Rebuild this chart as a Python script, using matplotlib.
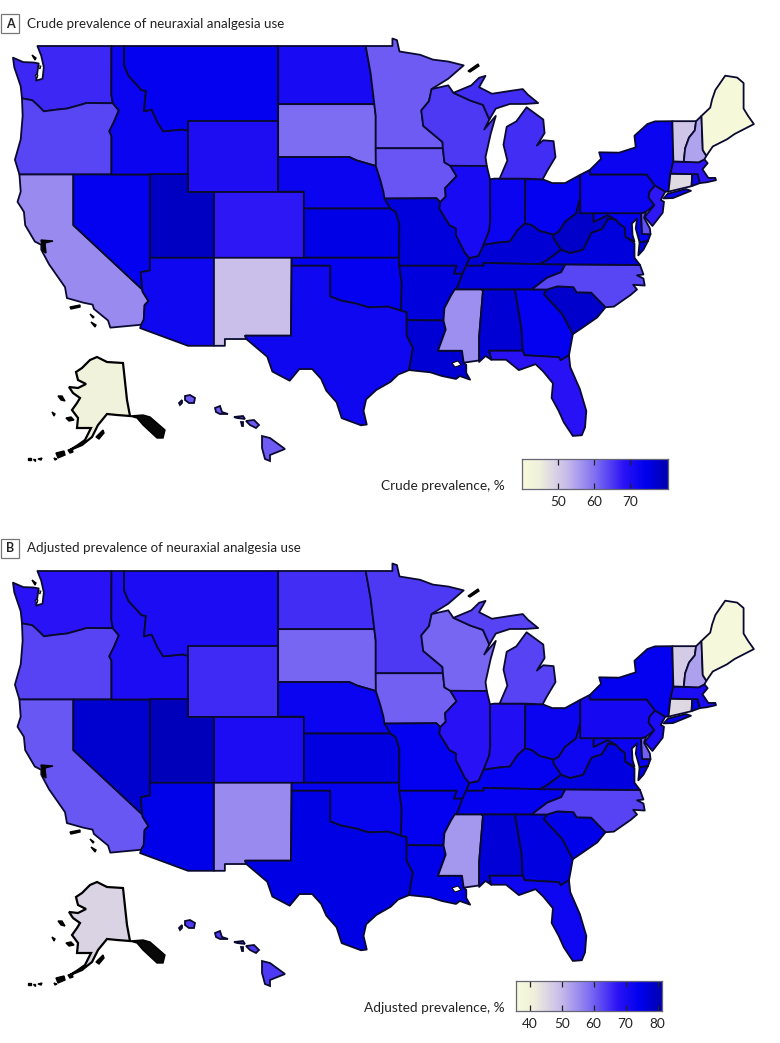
"""
Neuraxial analgesia prevalence by state, crude and adjusted choropleths.
Outlines are hand simplified lon/lat, the map is a plain Mercator.
"""
import numpy as np
import matplotlib
matplotlib.use("Agg")
import matplotlib.pyplot as plt
from matplotlib.colors import LinearSegmentedColormap, Normalize
from matplotlib.patches import Rectangle

plt.rcParams['font.family'] = ['Lato', 'DejaVu Sans']

STATES = ["ME", "VT", "NH", "MA", "RI", "CT", "NY", "NJ", "PA", "DE", "MD", "VA", "WV", "OH", "MI", "IN", "IL",
          "WI", "MN", "IA", "MO", "ND", "SD", "NE", "KS", "KY", "TN", "NC", "SC", "GA", "FL", "AL", "MS", "AR",
          "LA", "TX", "OK", "MT", "WY", "ID", "WA", "OR", "CA", "NV", "UT", "AZ", "CO", "NM", "AK", "HI"]
crude = [41, 51, 55, 68, 72, 48, 73, 68, 73, 63, 74, 76, 78, 74, 66, 73, 71,
         65, 62, 62.5, 76, 71, 60.5, 73, 75, 77, 76, 64, 77.5, 74, 68.5, 77, 57, 76,
         77, 72, 74, 74, 70, 73, 66.5, 64, 57.5, 74, 78.5, 72, 68, 52, 44, 62]
adjusted = [37, 47, 53, 70, 75, 45, 74, 70, 71, 60, 73, 76, 72, 73, 63, 69, 68,
            59.5, 64, 60, 74, 65, 59.5, 73, 76, 74, 74, 63, 75, 76, 72, 77, 54, 74,
            75, 75.5, 73.5, 70, 65.5, 70, 67.7, 63, 61, 78, 80, 75, 70, 55.5, 46, 64]

# lon/lat outlines, shared borders are repeated by hand
OUTLINES = {
    "WA": [(-124.7,48.4),(-123.9,48.17),(-123.1,48.15),(-122.7,48.1),(-122.9,47.2),(-122.4,47.3),(-122.3,47.9),(-122.5,48.5),(-122.8,49),(-117.03,49),(-117.04,46.43),(-116.92,45.99),(-118.98,46),(-119.3,45.93),(-120.5,45.7),(-121.2,45.65),(-122.3,45.55),(-122.8,45.9),(-123.2,46.15),(-124,46.25),(-124.1,46.9),(-124.6,47.9)],
    "OR": [(-124,46.25),(-123.2,46.15),(-122.8,45.9),(-122.3,45.55),(-121.2,45.65),(-120.5,45.7),(-119.3,45.93),(-118.98,46),(-116.92,45.99),(-116.46,45.6),(-116.85,44.95),(-117.2,44.45),(-117.03,44.2),(-117.03,42),(-124.2,42),(-124.55,42.85),(-124.1,44),(-123.95,45.3)],
    "CA": [(-124.2,42),(-120,42),(-120,39),(-114.63,35),(-114.6,34.85),(-114.15,34.26),(-114.45,34),(-114.52,33.03),(-114.72,32.72),(-117.12,32.53),(-117.3,33),(-118.4,33.75),(-118.5,34.03),(-119.2,34.15),(-120.5,34.45),(-120.65,35.15),(-121.9,36.6),(-122.5,37.5),(-122.5,37.8),(-123,38),(-123.75,39),(-123.85,39.8),(-124.35,40.4),(-124.1,41)],
    "NV": [(-120,42),(-114.04,42),(-114.04,36.2),(-114.75,36.1),(-114.63,35),(-120,39)],
    "ID": [(-117.03,49),(-116.05,49),(-116.05,48),(-115.7,47.45),(-114.7,46.7),(-114.35,46.65),(-114.5,45.55),(-113.9,45.65),(-113.45,44.95),(-113,44.45),(-111.5,44.55),(-111.05,44.48),(-111.05,42),(-117.03,42),(-117.03,44.2),(-117.2,44.45),(-116.85,44.95),(-116.46,45.6),(-116.92,45.99),(-117.04,46.43)],
    "MT": [(-116.05,49),(-104.05,49),(-104.05,45),(-111.05,45),(-111.05,44.48),(-111.5,44.55),(-113,44.45),(-113.45,44.95),(-113.9,45.65),(-114.5,45.55),(-114.35,46.65),(-114.7,46.7),(-115.7,47.45),(-116.05,48)],
    "WY": [(-111.05,45),(-104.05,45),(-104.05,41),(-111.05,41)],
    "UT": [(-114.04,42),(-111.05,42),(-111.05,41),(-109.05,41),(-109.05,37),(-114.04,37)],
    "AZ": [(-114.04,37),(-109.05,37),(-109.05,31.33),(-111.07,31.33),(-114.8,32.5),(-114.72,32.72),(-114.52,33.03),(-114.45,34),(-114.15,34.26),(-114.6,34.85),(-114.63,35),(-114.75,36.1),(-114.04,36.2)],
    "CO": [(-109.05,41),(-102.05,41),(-102.05,37),(-109.05,37)],
    "NM": [(-109.05,37),(-103,37),(-103.05,32),(-106.62,32),(-106.53,31.78),(-108.2,31.78),(-108.2,31.33),(-109.05,31.33)],
    "ND": [(-104.05,49),(-97.23,49),(-96.85,47.6),(-96.56,45.94),(-104.05,45.94)],
    "SD": [(-104.05,45.94),(-96.56,45.94),(-96.45,45.3),(-96.45,43.5),(-96.44,42.49),(-97.9,42.8),(-98.5,43),(-104.05,43)],
    "NE": [(-104.05,43),(-98.5,43),(-97.9,42.8),(-96.44,42.49),(-96.1,41.7),(-95.85,41),(-95.31,40),(-102.05,40),(-102.05,41),(-104.05,41)],
    "KS": [(-102.05,40),(-95.31,40),(-94.9,39.8),(-94.61,39.1),(-94.62,37),(-102.05,37)],
    "OK": [(-103,37),(-94.62,37),(-94.62,36.5),(-94.43,35.4),(-94.48,33.64),(-95.5,33.9),(-97,33.85),(-98,34.1),(-99.2,34.3),(-100,34.56),(-100,36.5),(-103,36.5)],
    "TX": [(-103,36.5),(-100,36.5),(-100,34.56),(-99.2,34.3),(-98,34.1),(-97,33.85),(-95.5,33.9),(-94.48,33.64),(-94.04,33.55),(-94.04,32),(-93.55,31.2),(-93.7,30.5),(-93.85,29.7),(-94.7,29.4),(-95.3,28.9),(-96.4,28.35),(-97.2,27.7),(-97.4,26.9),(-97.15,25.95),(-97.6,25.9),(-99.1,26.4),(-99.5,27.5),(-100.3,28.3),(-100.7,29.1),(-101.4,29.77),(-102.4,29.77),(-103.15,28.98),(-104.5,29.6),(-104.9,30.6),(-106.53,31.78),(-106.62,32),(-103.05,32)],
    "MN": [(-97.23,49),(-95.15,49),(-95.15,49.38),(-94.8,49.3),(-94.6,48.72),(-93,48.55),(-92,48.3),(-90.8,48.2),(-89.6,48),(-90.8,47.3),(-92.1,46.75),(-92.3,46.1),(-92.9,45.6),(-92.75,44.75),(-91.25,43.85),(-91.22,43.5),(-96.45,43.5),(-96.45,45.3),(-96.56,45.94),(-96.85,47.6)],
    "IA": [(-96.45,43.5),(-91.22,43.5),(-91.1,42.7),(-90.64,42.5),(-90.15,41.9),(-91.05,41.2),(-91,40.7),(-91.42,40.38),(-91.73,40.61),(-95.77,40.59),(-95.85,41),(-96.1,41.7),(-96.44,42.49)],
    "MO": [(-95.77,40.59),(-91.73,40.61),(-91.42,40.38),(-91.5,40),(-90.7,39),(-90.2,38.8),(-90.2,38.4),(-89.5,37.3),(-89.15,36.98),(-89.4,36.5),(-89.7,36),(-90.37,36),(-90.15,36.5),(-94.62,36.5),(-94.62,37),(-94.61,39.1),(-94.9,39.8),(-95.31,40)],
    "AR": [(-94.62,36.5),(-90.15,36.5),(-90.37,36),(-89.7,36),(-90.1,35.1),(-90.6,34.6),(-91.1,33.8),(-91.17,33),(-94.04,33.02),(-94.04,33.55),(-94.48,33.64),(-94.43,35.4)],
    "LA": [(-94.04,33.02),(-91.17,33),(-91,32.4),(-91.6,31),(-89.73,31),(-89.6,30.2),(-89.4,30.05),(-89.4,29.5),(-89.1,29.05),(-89.9,29.3),(-90.2,29.1),(-91.3,29.3),(-92.2,29.55),(-93.85,29.7),(-93.7,30.5),(-93.55,31.2),(-94.04,32)],
    "WI": [(-92.1,46.75),(-90.8,46.95),(-90.4,46.55),(-89.1,46.14),(-88.1,45.9),(-87.6,45.1),(-88,44.55),(-87.1,45.3),(-87.5,44.3),(-87.9,43),(-87.8,42.49),(-90.64,42.5),(-91.1,42.7),(-91.22,43.5),(-91.25,43.85),(-92.75,44.75),(-92.9,45.6),(-92.3,46.1)],
    "IL": [(-90.64,42.5),(-87.8,42.49),(-87.55,41.72),(-87.53,39.35),(-87.6,38.7),(-88.05,37.8),(-88.45,37.1),(-89.15,36.98),(-89.5,37.3),(-90.2,38.4),(-90.2,38.8),(-90.7,39),(-91.5,40),(-91.42,40.38),(-91,40.7),(-91.05,41.2),(-90.15,41.9)],
    "IN": [(-87.55,41.72),(-87.2,41.76),(-84.8,41.76),(-84.82,39.1),(-85.4,38.7),(-86,38),(-86.8,37.95),(-88.05,37.8),(-87.6,38.7),(-87.53,39.35)],
    "OH": [(-84.8,41.72),(-83.45,41.72),(-82.7,41.5),(-81.7,41.5),(-80.52,41.98),(-80.52,40.64),(-80.85,39.7),(-81.7,39.2),(-82.2,38.6),(-82.6,38.42),(-83.7,38.65),(-84.3,39),(-84.82,39.1)],
    "KY": [(-89.4,36.5),(-88.05,36.5),(-88.05,36.68),(-83.68,36.6),(-83.1,36.85),(-82,37.5),(-82.6,38.2),(-82.6,38.42),(-83.7,38.65),(-84.3,39),(-84.82,39.1),(-85.4,38.7),(-86,38),(-86.8,37.95),(-88.05,37.8),(-88.45,37.1),(-89.15,36.98)],
    "TN": [(-89.7,36),(-89.4,36.5),(-88.05,36.5),(-88.05,36.68),(-83.68,36.6),(-81.68,36.59),(-82,36.1),(-83.1,35.75),(-84.3,35),(-90.3,35),(-90.1,35.1)],
    "MS": [(-90.3,35),(-88.2,35),(-88.1,34.9),(-88.4,31.9),(-88.4,30.35),(-89.6,30.2),(-89.73,31),(-91.6,31),(-91,32.4),(-91.17,33),(-91.1,33.8),(-90.6,34.6)],
    "AL": [(-88.2,35),(-85.6,35),(-85.1,32.5),(-85,31),(-87.6,31),(-87.45,30.4),(-87.9,30.65),(-88.4,30.25),(-88.4,31.9),(-88.1,34.9)],
    "GA": [(-85.6,35),(-83.1,35),(-83.35,34.7),(-81.9,33.4),(-81.1,32.1),(-81.4,30.7),(-82.05,30.36),(-82.2,30.57),(-84.86,30.7),(-85,31),(-85.1,32.5)],
    "FL": [(-87.6,31),(-85,31),(-84.86,30.7),(-82.2,30.57),(-82.05,30.36),(-81.4,30.7),(-81.3,29.9),(-80.55,28.4),(-80.05,26.9),(-80.15,25.75),(-80.4,25.2),(-81.1,25.15),(-81.8,26.1),(-82.2,26.9),(-82.75,27.8),(-82.65,28.8),(-83.4,29.6),(-84,30.1),(-85.3,29.7),(-86.3,30.4),(-87.45,30.4)],
    "SC": [(-83.1,35),(-82.3,35.2),(-81.05,35.15),(-80.8,34.82),(-79.67,34.8),(-78.55,33.86),(-79.2,33.2),(-80.4,32.5),(-81.1,32.1),(-81.9,33.4),(-83.35,34.7)],
    "NC": [(-84.3,35),(-83.1,35.75),(-82,36.1),(-81.68,36.59),(-75.87,36.55),(-75.6,35.95),(-76.1,35.9),(-75.6,35.7),(-75.5,35.25),(-76.4,35.3),(-76.1,35),(-76.6,34.65),(-77.9,33.9),(-78.55,33.86),(-79.67,34.8),(-80.8,34.82),(-81.05,35.15),(-82.3,35.2),(-83.1,35)],
    "VA": [(-83.68,36.6),(-75.87,36.55),(-76.3,37),(-76.3,37.9),(-77,38.3),(-77.05,38.85),(-77.5,39.1),(-77.72,39.32),(-78.35,39.4),(-78.85,38.75),(-79.65,38.55),(-80.3,37.5),(-81.3,37.3),(-82,37.5),(-83.1,36.85)],
    "WV": [(-82.6,38.42),(-82.6,38.2),(-82,37.5),(-81.3,37.3),(-80.3,37.5),(-79.65,38.55),(-78.85,38.75),(-78.35,39.4),(-77.72,39.32),(-78.4,39.6),(-79.48,39.2),(-79.48,39.72),(-80.52,39.72),(-80.52,40.64),(-80.85,39.7),(-81.7,39.2),(-82.2,38.6)],
    "MD": [(-79.48,39.72),(-75.79,39.72),(-75.7,38.46),(-75.05,38.45),(-75.25,38.03),(-75.9,37.95),(-76.2,38.8),(-76.1,39.4),(-76.5,39.1),(-76.45,38.4),(-76.3,38),(-77,38.3),(-77.05,38.85),(-77.5,39.1),(-77.72,39.32),(-78.4,39.6),(-79.48,39.2)],
    "DE": [(-75.79,39.72),(-75.4,39.8),(-75.55,39.45),(-75.1,38.8),(-75.05,38.45),(-75.7,38.46)],
    "PA": [(-80.52,41.98),(-79.76,42.27),(-79.76,42),(-75.35,42),(-74.7,41.36),(-75.13,40.98),(-75.2,40.65),(-74.75,40.2),(-75.4,39.8),(-75.79,39.72),(-80.52,39.72)],
    "NJ": [(-74.7,41.36),(-73.9,41),(-74.25,40.5),(-74,40.4),(-74.1,39.75),(-74.9,38.95),(-75.5,39.5),(-74.75,40.2),(-75.2,40.65),(-75.13,40.98)],
    "NY": [(-79.76,42.27),(-79.76,42),(-75.35,42),(-74.7,41.36),(-73.9,41),(-73.65,41),(-73.5,42.05),(-73.27,42.75),(-73.35,45.01),(-74.7,45),(-75.3,44.85),(-76.3,44.2),(-76.2,43.55),(-77.5,43.25),(-79.05,43.27),(-78.9,42.9)],
    "CT": [(-73.5,42.05),(-71.8,42.02),(-71.85,41.32),(-73.65,41)],
    "RI": [(-71.8,42.02),(-71.38,42.02),(-71.2,41.5),(-71.85,41.32)],
    "MA": [(-73.5,42.05),(-73.27,42.75),(-71.3,42.7),(-70.85,42.87),(-70.6,42.65),(-71,42.3),(-70.55,41.8),(-70,41.8),(-69.95,41.67),(-70.65,41.55),(-71.2,41.5),(-71.38,42.02),(-71.8,42.02)],
    "VT": [(-73.35,45.01),(-71.5,45.01),(-71.6,44.5),(-72.05,44.1),(-72.35,43.5),(-72.46,42.73),(-73.27,42.75)],
    "NH": [(-71.5,45.01),(-71.08,45.3),(-70.98,43.4),(-70.7,43.07),(-70.85,42.87),(-71.3,42.7),(-72.46,42.73),(-72.35,43.5),(-72.05,44.1),(-71.6,44.5)],
    "ME": [(-71.08,45.3),(-70.4,45.75),(-70.25,46.2),(-70,46.7),(-69.23,47.46),(-68.3,47.36),(-67.8,47.07),(-67.8,45.7),(-67.45,45.3),(-67,44.85),(-68.5,44.3),(-69.1,44),(-70.2,43.6),(-70.7,43.07),(-70.98,43.4)],
    "MI": [(-86.8,41.76),(-84.8,41.76),(-83.45,41.72),(-83.1,42.2),(-82.45,43),(-82.6,43.9),(-83.4,43.95),(-83.9,43.65),(-83.3,44.35),(-83.4,45.1),(-84.7,45.77),(-85.5,45),(-86.25,44.7),(-86.5,43.7),(-86.2,42.8)],
}
EXTRA_PARTS = [
    ("MI", [(-90.4,46.55),(-89,46.95),(-88.4,47.35),(-87.9,47.45),(-88.4,46.85),(-87.4,46.5),(-86,46.65),(-85,46.75),(-84.6,46.45),(-83.8,46),(-84.8,45.95),(-86,45.95),(-87.1,45.7),(-87.6,45.1),(-88.1,45.9),(-89.1,46.14)]),
    ("NY", [(-74.03,40.6),(-73.7,40.88),(-72.3,41.15),(-71.9,41.05),(-73.3,40.62)]),
    ("VA", [(-75.9,37.95),(-75.25,38.03),(-75.6,37.5),(-76,37.15)]),
]

# the insets and small isles are not worth a projection, these stay in panel pixels
ALASKA = [(97,357),(90,360),(82,368),(76,372),(78,380),(86,384),(78,388),(69,387),(73,393),(80,398),(77,403),(72,410),(78,418),(77,428),(91,428),(85,440),(78,445),(70,450),(82,445),(92,437),(98,425),(107,414),(117,415),(130,416),(127,400),(123,363),(107,362)]
ALASKA_PANHANDLE = [(130,416),(143,415),(150,417),(165,430),(163,438),(157,438),(143,425),(137,418)]
BLACK_ISLES = [[(58,396),(62,396),(65,401),(61,400)], [(52,412),(55,414),(54,416)], [(66,418),(71,417),(74,420),(69,421)],
               [(96,437),(103,430),(104,433),(99,439)], [(54,458),(57,459),(55,460)], [(56,453),(64,451),(65,455),(58,458)],
               [(68,450),(72,449),(73,452),(70,453)], [(28,458),(31,458),(31,460),(28,460)], [(33,459),(35,459),(35,461)], [(38,459),(42,458),(41,460)],
               [(468,71),(478,64),(479,66),(470,72)], [(70,307),(80,305),(80,307),(71,309)], [(90,314),(94,317),(93,318)],
               [(91,322),(96,325),(95,327)], [(32,55),(36,58),(35,60)], [(41,240),(53,241),(45,243),(46,253),(43,251)]]
WHITE_LAKES = [[(452,363),(458,361),(461,365),(455,367)], [(38,66),(41,66),(40,69)], [(35,75),(38,75),(37,78)]]
HAWAII = [[(185,396),(190,395),(195,398),(194,403),(189,403),(185,400)], [(179,403),(182,400),(182,403),(180,405)],
          [(215,408),(220,406),(222,412),(228,414),(220,414),(216,412)], [(234,417),(243,416),(245,419),(237,418)],
          [(241,422),(243,422),(243,426),(242,426)], [(246,421),(254,420),(259,425),(256,428),(250,425)],
          [(262,436),(270,438),(285,449),(270,455),(270,461),(265,459),(262,448)]]

TITLES = ["Crude prevalence of neuraxial analgesia use", "Adjusted prevalence of neuraxial analgesia use"]
PANEL_LETTERS = ["A", "B"]
BAR_LABELS = ["Crude prevalence, %", "Adjusted prevalence, %"]
BAR_RANGES = [(40, 80.5), (35.7, 81.4)]
BAR_TICKS = [[50, 60, 70], [40, 50, 60, 70, 80]]
BAR_BOXES = [(522, 459, 146, 30), (516, 981, 146, 30)]

cmap = LinearSegmentedColormap.from_list("prev", [(0, "#f7fada"), (0.12, "#f0f0dc"), (0.3, "#c9bdea"), (0.5, "#8070f2"),
                                                 (0.7, "#2a12f5"), (0.85, "#0000ee"), (1, "#0000b0")])

W, H = 780, 1043
PX_PER_DEG = 12.84
PANEL_DY = 525
EDGE = "#0a0a30"


def merc(lat):
    return np.log(np.tan(np.pi / 4 + np.radians(lat) / 2))


def project(points):
    """lon/lat to pixels of panel A"""
    pts = np.array(points)
    x = 13 + (pts[:, 0] + 124.7) * PX_PER_DEG
    y = 46 - np.degrees(merc(pts[:, 1]) - merc(49.0)) * PX_PER_DEG
    return x, y


def fill_px(ax, points, dy, **kw):
    xy = np.array(points)
    ax.fill(xy[:, 0], xy[:, 1] + dy, **kw)


def draw_panel(ax, values, norm, dy):
    colors = dict(zip(STATES, values))
    for name, outline in list(OUTLINES.items()) + EXTRA_PARTS:
        x, y = project(outline)
        ax.fill(x, y + dy, fc=cmap(norm(colors[name])), ec=EDGE, lw=1.3, joinstyle="round")
    fill_px(ax, ALASKA, dy, fc=cmap(norm(colors["AK"])), ec="black", lw=1.6)
    fill_px(ax, ALASKA_PANHANDLE, dy, fc="#080808", ec="black", lw=1.0)
    for isle in BLACK_ISLES:
        fill_px(ax, isle, dy, fc="black", ec="black", lw=1.0)
    for lake in WHITE_LAKES:
        fill_px(ax, lake, dy, fc="white", ec="black", lw=0.7)
    for isle in HAWAII:
        fill_px(ax, isle, dy, fc=cmap(norm(colors["HI"])), ec=EDGE, lw=1.3)


def draw_bar(fig, ax, box, vrange, ticks, label):
    left, top, w, h = box
    cax = fig.add_axes([left / W, 1 - (top + h) / H, w / W, h / H])
    grad = np.linspace(vrange[0], vrange[1], 256).reshape(1, -1)
    cax.imshow(grad, aspect="auto", cmap=cmap, vmin=vrange[0], vmax=vrange[1],
               extent=[vrange[0], vrange[1], 0, 1])
    cax.set_yticks([])
    cax.set_xticks(ticks)
    cax.tick_params(axis="x", direction="in", top=True, length=4.5, width=0.9, color="#222222",
                    labelsize=9.8, labelcolor="#222222", pad=5)
    for s in cax.spines.values():
        s.set_color("#666677")
        s.set_linewidth(0.9)
    ax.text(505, top + h - 3, label, ha="right", va="center", fontsize=9.8, color="#222222")


fig = plt.figure(figsize=(W / 100, H / 100), dpi=100)
ax = fig.add_axes([0, 0, 1, 1])
ax.set_xlim(0, W)
ax.set_ylim(H, 0)
ax.axis("off")

panel_values = [crude, adjusted]
for i in range(2):
    dy = PANEL_DY * i
    norm = Normalize(*BAR_RANGES[i])
    draw_panel(ax, panel_values[i], norm, dy)
    ax.add_patch(Rectangle((1, 14 + dy), 18, 19, fc="white", ec="#777777", lw=0.9))
    ax.text(10, 23.5 + dy, PANEL_LETTERS[i], ha="center", va="center", fontsize=9, fontweight="bold", color="#222222")
    ax.text(27, 23.5 + dy, TITLES[i], ha="left", va="center", fontsize=9.65, color="#222222")
    draw_bar(fig, ax, BAR_BOXES[i], BAR_RANGES[i], BAR_TICKS[i], BAR_LABELS[i])

fig.savefig("out.png", dpi=100)
